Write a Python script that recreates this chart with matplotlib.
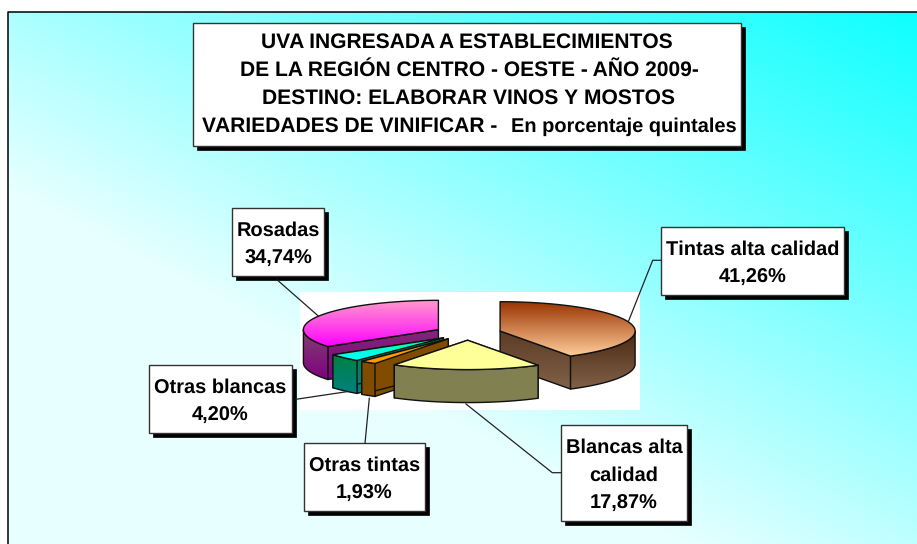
import numpy as np
import matplotlib
matplotlib.use('Agg')
import matplotlib.pyplot as plt
from matplotlib.colors import to_rgb
from matplotlib.patches import Polygon, Rectangle

plt.rcParams['font.family'] = ['Liberation Sans', 'DejaVu Sans']
plt.rcParams['text.hinting'] = 'no_hinting'
plt.rcParams['text.hinting_factor'] = 1

W, H = 917, 544

# data, clockwise from 12 o'clock
labels = ['Tintas alta calidad', 'Blancas alta\ncalidad', 'Otras tintas', 'Otras blancas', 'Rosadas']
values = [41.26, 17.87, 1.93, 4.20, 34.74]
title_lines = ['UVA INGRESADA A ESTABLECIMIENTOS',
               'DE LA REGIÓN CENTRO - OESTE - AÑO 2009-',
               'DESTINO: ELABORAR VINOS Y MOSTOS']
title_last = ['VARIEDADES DE VINIFICAR -', 'En porcentaje quintales']

# (top upper, top lower, side upper, side lower)
slice_colors = [('#993300', '#FFCC99', '#4A2712', '#806248'),
                ('#FFFF99', '#FFFF99', '#808050', '#808050'),
                ('#FF9900', '#FF9900', '#804C00', '#804C00'),
                ('#00FF99', '#00FFFF', '#008040', '#008080'),
                ('#FF99CC', '#FF00FF', '#804070', '#800080')]

# label boxes in pixels: x0, y0, x1, y1
label_boxes = [(661, 227, 844, 295), (561, 425, 687, 521), (304, 443, 425, 511),
               (149, 365, 292, 433), (232, 208, 324, 276)]
leaders = [[(661, 260.3), (652.7, 260.3), (628.3, 321.7)],
           [(561, 472.7), (552.3, 472.7), (466, 404)],
           [(365, 443.3), (369.3, 398.3)],
           [(296, 399.3), (346.7, 391.7)],
           [(277.3, 280), (318.3, 316)]]

# pie geometry in pixels
cx, cy = 468, 333
rx, ry = 135, 29.33
explode = 0.247
depth = 33 / ry
white_box = (300, 292, 640, 410)

fig = plt.figure(figsize=(W / 100, H / 100), dpi=100, facecolor='white')

# background gradient
ax_bg = fig.add_axes([0, 0, 1, 1], zorder=0)
ax_bg.set_xlim(0, W)
ax_bg.set_ylim(H, 0)
ax_bg.axis('off')
u, v = np.meshgrid(np.linspace(1, 0, W), np.linspace(0, 1, H))
red = np.clip(10 + 160 * u + 180 * v, 0, 232) / 255
bg = np.dstack([red, np.ones_like(red), np.ones_like(red)])
ax_bg.imshow(bg, extent=[0, W, H, 0], aspect='auto', interpolation='bilinear')
ax_bg.add_patch(Rectangle((0, 0), W, 12, fc='white', ec='none'))
ax_bg.add_patch(Rectangle((0, 0), 8, H, fc='white', ec='none'))
ax_bg.plot([8, 8, W], [H, 12, 12], color='black', lw=1.1)
ax_bg.set_xlim(0, W)
ax_bg.set_ylim(H, 0)

# pie axes: one unit is one radius
x0, y0, x1, y1 = white_box
ax = fig.add_axes([x0 / W, 1 - y1 / H, (x1 - x0) / W, (y1 - y0) / H], zorder=1)
xlim = ((x0 - cx) / rx, (x1 - cx) / rx)
ylim = ((cy - y1) / ry, (cy - y0) / ry)
ax.set_xlim(xlim)
ax.set_ylim(ylim)
ax.axis('off')
ax.add_patch(Rectangle((xlim[0], ylim[0]), xlim[1] - xlim[0], ylim[1] - ylim[0], fc='white', ec='none', zorder=0))


def rim(c, t0, t1):
    t = np.radians(np.linspace(t0, t1, max(2, int(abs(t1 - t0)) + 2)))
    return np.column_stack([c[0] + np.sin(t), c[1] + np.cos(t)])


def shade(pts, top, bottom, ytop, ybot, z):
    # vertical gradient clipped to the polygon, then the outline
    n = 64
    c1, c2 = np.array(to_rgb(top)), np.array(to_rgb(bottom))
    f = np.linspace(0, 1, n)[:, None]
    img = (c1 + (c2 - c1) * f)[:, None, :]
    xs = pts[:, 0]
    im = ax.imshow(img, extent=[xs.min(), xs.max(), ybot, ytop], aspect='auto', zorder=z, interpolation='bilinear')
    poly = Polygon(pts, closed=True, fc='none', ec='#111111', lw=1.0, zorder=z + 0.5, joinstyle='round')
    ax.add_patch(poly)
    im.set_clip_path(poly)


edges = np.cumsum([0] + values) / sum(values) * 360
# back to front
order = [4, 0, 3, 2, 1]
z = 2
for i in order:
    t0, t1 = edges[i], edges[i + 1]
    mid = np.radians((t0 + t1) / 2)
    c = np.array([explode * np.sin(mid), explode * np.cos(mid)])
    top_c, low_c, side_c, side_low = slice_colors[i]
    arc = rim(c, t0, t1)
    top = np.vstack([c, arc])
    drop = np.array([0, depth])
    ytop, ybot = top[:, 1].max(), top[:, 1].min()
    wall_top, wall_bot = ytop, ybot - depth
    # cut faces
    for t in (t0, t1):
        p = rim(c, t, t)[0]
        face = np.array([c, p, p - drop, c - drop])
        if np.ptp(face[:, 0]) > 0.01:
            shade(face, side_c, side_low, wall_top, wall_bot, z)
            z += 1
    # outer wall, front half only
    a, b = max(t0, 90), min(t1, 270)
    if b > a:
        front = rim(c, a, b)
        wall = np.vstack([front, (front - drop)[::-1]])
        shade(wall, side_c, side_low, front[:, 1].max(), front[:, 1].min() - depth, z)
        z += 1
    shade(top, top_c, low_c, ytop, ybot, z)
    z += 1
ax.set_xlim(xlim)
ax.set_ylim(ylim)

# overlay in pixels: leaders, boxes, texts
ov = fig.add_axes([0, 0, 1, 1], zorder=2)
ov.set_xlim(0, W)
ov.set_ylim(H, 0)
ov.axis('off')
ov.patch.set_alpha(0)


def box(x0, y0, x1, y1, off=4):
    ov.add_patch(Rectangle((x0 + off, y0 + off), x1 - x0, y1 - y0, fc='black', ec='black', lw=0.5))
    ov.add_patch(Rectangle((x0, y0), x1 - x0, y1 - y0, fc='white', ec='#333333', lw=1.0))


for pts in leaders:
    ov.plot([p[0] for p in pts], [p[1] for p in pts], color='#222222', lw=0.9)

box(192.7, 22.7, 740.7, 145.7)
title_x = [467, 469, 468]
for k, line in enumerate(title_lines):
    ov.text(title_x[k], 47.5 + k * 28.2, line, ha='center', va='baseline', fontsize=15.1,
            fontweight='bold', color='black')
# last line has two runs: a larger one and a slightly smaller one
ov.text(202.5, 132.1, title_last[0], ha='left', va='baseline', fontsize=15.1, fontweight='bold', color='black')
ov.text(737, 132.1, title_last[1], ha='right', va='baseline', fontsize=14.6, fontweight='bold', color='black')

for name, val, b in zip(labels, values, label_boxes):
    box(*b)
    lines = name.split('\n') + [f'{val:.2f}'.replace('.', ',') + '%']
    mid_y = (b[1] + b[3]) / 2
    mid_x = (b[0] + b[2]) / 2
    for k, line in enumerate(lines):
        ov.text(mid_x, mid_y + 7.5 + (k - (len(lines) - 1) / 2) * 28.2, line, ha='center', va='baseline',
                fontsize=14.5, fontweight='bold', color='black')

fig.savefig('out.png', dpi=100)
